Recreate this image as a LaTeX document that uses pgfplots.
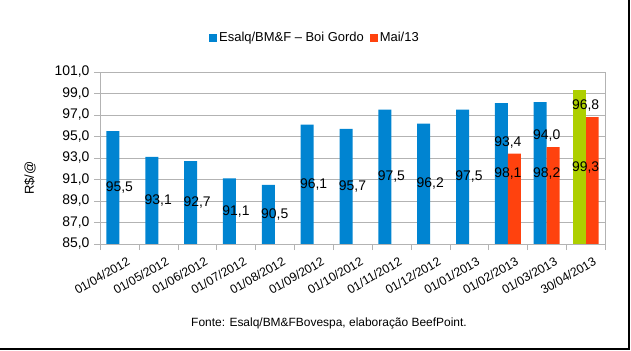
\documentclass[border=0pt]{standalone}
\usepackage{fontspec}
\setmainfont{Liberation Sans}
\usepackage{pgfplots}
\pgfplotsset{compat=1.18}
\definecolor{cblue}{HTML}{0084D1}
\definecolor{cred}{HTML}{FF420E}
\definecolor{cgreen}{HTML}{AECF00}
\definecolor{cgrid}{HTML}{B3B3B3}
\begin{document}
\begin{tikzpicture}
\path[use as bounding box] (0bp,0bp) rectangle (631bp,351bp);
\draw[black, line width=1.6bp] (0bp,2bp) -- (629bp,2bp) -- (629bp,351bp);
\begin{axis}[
  at={(100bp,107bp)}, anchor=south west,
  scale only axis, width=505bp, height=172bp,
  xmin=-0.5, xmax=12.5, ymin=85, ymax=101,
  ytick={85,87,...,101},
  xtick={0,...,12},
  xticklabels={01/04/2012,01/05/2012,01/06/2012,01/07/2012,01/08/2012,01/09/2012,01/10/2012,01/11/2012,01/12/2012,01/01/2013,01/02/2013,01/03/2013,30/04/2013},
  minor xtick={-0.5,0.5,...,12.5},
  major x tick style={draw=none},
  minor x tick style={cgrid},
  xtick pos=lower, ytick pos=left,
  tick align=outside,
  major tick length=6bp, minor tick length=6bp,
  ymajorgrids, grid style={cgrid},
  axis line style={cgrid},
  tick style={cgrid},
  /pgf/number format/assume math mode=true,
  yticklabel={\pgfmathprintnumber[fixed,fixed zerofill,precision=1,use comma]{\tick}},
  yticklabel style={font=\fontsize{14}{16}\selectfont, xshift=-1bp},
  xticklabel style={font=\fontsize{12.3}{14}\selectfont, rotate=30, anchor=north east, inner sep=1bp, xshift=4bp, yshift=-8bp},
  legend style={at={(0.4257,1.198)}, anchor=center, draw=none, fill=none,
    font=\fontsize{13}{15}\selectfont, legend columns=-1,
    /tikz/every even column/.append style={column sep=4bp}},
  legend cell align=left,
]
\addplot[ybar, bar width=13bp, bar shift=-6.5bp, fill=cblue, draw=none,
  legend image code/.code={\fill[cblue] (0bp,-4bp) rectangle (8bp,4bp);},
  visualization depends on=rawy \as \rawy,
  nodes near coords={\pgfmathprintnumber[fixed,fixed zerofill,precision=1,use comma]{\pgfplotspointmeta}},
  every node near coord/.append style={font=\fontsize{14}{16}\selectfont, black, anchor=center, yshift={-(\rawy-85)*5.3952}},
] coordinates {
(0,95.5) (1,93.1) (2,92.7) (3,91.1) (4,90.5) (5,96.1) (6,95.7) (7,97.5) (8,96.2) (9,97.5) (10,98.1) (11,98.2)
};
\addlegendentry{Esalq/BM\&F -- Boi Gordo}
\addplot[ybar, bar width=13bp, bar shift=6.5bp, fill=cred, draw=none,
  legend image code/.code={\fill[cred] (0bp,-4bp) rectangle (8bp,4bp);},
  nodes near coords={\pgfmathprintnumber[fixed,fixed zerofill,precision=1,use comma]{\pgfplotspointmeta}},
  every node near coord/.append style={font=\fontsize{14}{16}\selectfont, black, anchor=south, yshift=2bp},
] coordinates {
(10,93.4) (11,94.0) (12,96.8)
};
\addlegendentry{Mai/13}
\addplot[ybar, bar width=13bp, bar shift=-6.5bp, fill=cgreen, draw=none, forget plot,
  visualization depends on=rawy \as \rawy,
  nodes near coords={\pgfmathprintnumber[fixed,fixed zerofill,precision=1,use comma]{\pgfplotspointmeta}},
  every node near coord/.append style={font=\fontsize{14}{16}\selectfont, black, anchor=center, yshift={-(\rawy-85)*5.3952}},
] coordinates {
(12,99.3)
};
\end{axis}
\node[rotate=90, font=\fontsize{13}{15}\selectfont] at (30bp,173bp) {R\$/@};
\node[font=\fontsize{12}{14}\selectfont] at (329bp,28bp) {Fonte: Esalq/BM\&FBovespa, elaboração BeefPoint.};
\end{tikzpicture}
\end{document}
